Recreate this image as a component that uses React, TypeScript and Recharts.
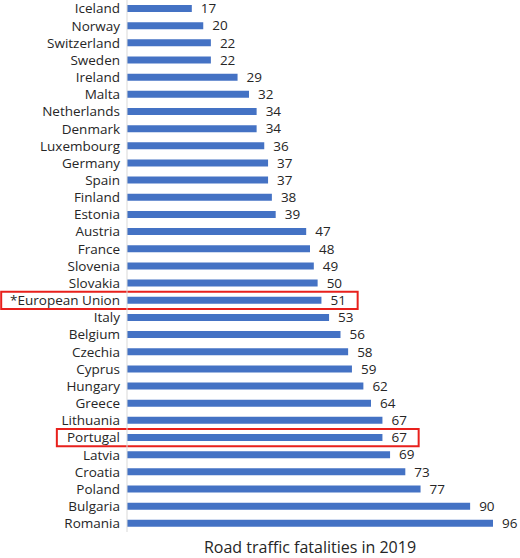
import { BarChart, Bar, XAxis, YAxis, LabelList, ReferenceArea } from "recharts";

const countries = [
  "Iceland", "Norway", "Switzerland", "Sweden", "Ireland", "Malta", "Netherlands",
  "Denmark", "Luxembourg", "Germany", "Spain", "Finland", "Estonia", "Austria",
  "France", "Slovenia", "Slovakia", "*European Union", "Italy", "Belgium", "Czechia",
  "Cyprus", "Hungary", "Greece", "Lithuania", "Portugal", "Latvia", "Croatia",
  "Poland", "Bulgaria", "Romania",
];

const fatalities = [
  17, 20, 22, 22, 29, 32, 34, 34, 36, 37, 37, 38, 39, 47, 48, 49, 50, 51, 53, 56, 58,
  59, 62, 64, 67, 67, 69, 73, 77, 90, 96,
];

const highlighted = ["*European Union", "Portugal"];

const data = countries.map((name, i) => ({ name, value: fatalities[i] }));

const FONT = "'Open Sans', 'Noto Sans', sans-serif";
const INK = "#262626";

// box reaches from left of the label to just past the value label
const boxLeft: Record<string, number> = { "*European Union": -33, Portugal: -18.4 };

export default function App() {
  return (
    <div style={{ position: "absolute", left: 0, top: 0, fontFamily: FONT }}>
      <BarChart
        width={520}
        height={558}
        data={data}
        layout="vertical"
        margin={{ top: 0, right: 27, bottom: 0, left: 0 }}
        barCategoryGap={0}
      >
        <XAxis
          type="number"
          domain={[0, 96]}
          tick={false}
          axisLine={false}
          tickLine={false}
          height={26}
          label={{
            value: "Road traffic fatalities in 2019",
            position: "insideBottom",
            offset: 5,
            fill: INK,
            fontSize: 16,
            fontFamily: FONT,
          }}
        />
        <YAxis
          type="category"
          dataKey="name"
          width={127}
          interval={0}
          tickLine={false}
          tickSize={0}
          tickMargin={7}
          axisLine={{ stroke: "#d9d9d9" }}
          tick={{ fill: INK, fontSize: 13.5, fontFamily: FONT }}
        />
        <Bar dataKey="value" fill="#4472C4" barSize={7} isAnimationActive={false}>
          <LabelList
            dataKey="value"
            position="right"
            offset={9}
            fill={INK}
            fontSize={13.5}
            fontFamily={FONT}
          />
        </Bar>
        {highlighted.map((name) => (
          <ReferenceArea
            key={name}
            y1={name}
            y2={name}
            x1={boxLeft[name]}
            x2={fatalities[countries.indexOf(name)] + 9.5}
            ifOverflow="visible"
            fill="none"
            stroke="#e8201c"
            strokeWidth={2}
          />
        ))}
      </BarChart>
    </div>
  );
}
